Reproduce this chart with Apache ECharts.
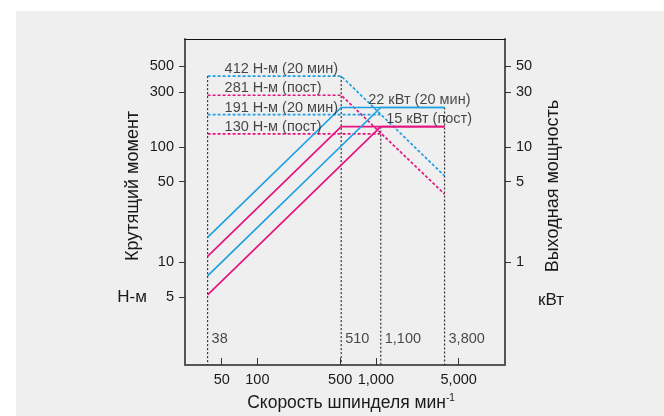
<!DOCTYPE html>
<html>
<head>
<meta charset="utf-8">
<script src="https://cdn.jsdelivr.net/npm/echarts@6/dist/echarts.min.js"></script>
<style>
  body { margin: 0; background: #fff; }
  #bg { position: absolute; left: 16px; top: 11px; width: 648px; height: 405px; background: #efefef; }
  #chart { position: absolute; left: 0; top: 0; width: 664px; height: 416px; }
</style>
</head>
<body>
<div id="bg"></div>
<div id="chart"></div>
<script>
// spindle speed (min-1) break points
const speeds = [38, 510, 1100, 3800];
const speedLabels = ["38", "510", "1,100", "3,800"];
// top of each dotted vertical, N-m
const dropTops = [412, 412, 150, 220];

// torque curves, N-m (dashed)
const torque412 = [[38, 412], [510, 412], [3800, 56]];
const torque281 = [[38, 281], [510, 281], [3800, 39]];
const torque191 = [[38, 191], [1100, 191]];
const torque130 = [[38, 130], [1100, 130]];

// output curves, kW (solid)
const power22a = [[38, 1.64], [510, 22], [3800, 22]];
const power15a = [[38, 1.12], [510, 15], [3800, 15]];
const power22b = [[38, 0.76], [1100, 22], [3800, 22]];
const power15b = [[38, 0.52], [1100, 15], [3800, 15]];

const torqueLevels = [412, 281, 191, 130];
const torqueNotes = ["412 Н-м (20 мин)", "281 Н-м (пост)", "191 Н-м (20 мин)", "130 Н-м (пост)"];
const powerLevels = [22, 15];
const powerNotes = ["22 кВт (20 мин)", "15 кВт (пост)"];

// axis ticks
const xTicks = [50, 100, 500, 1000, 5000];
const xTickLabels = ["50", "100", "500", "1,000", "5,000"];
const torqueTicks = [5, 10, 50, 100, 300, 500];
const powerTicks = [1, 5, 10, 30, 50];

const X_MIN = 24.5, X_MAX = 12300;
const T_MIN = 1.28, T_MAX = 865;

const FONT = '"Liberation Sans", Arial, sans-serif';
const INK = "#1a1a1a";
const BLUE = "#1ea0e2";
const PINK = "#e6147f";

let myChart = echarts.init(document.getElementById("chart"));

let lineSeries = (data, color, yAxisIndex, type) => ({
  type: "line",
  data: data,
  xAxisIndex: 0,
  yAxisIndex: yAxisIndex,
  symbol: "none",
  silent: true,
  lineStyle: { color: color, width: 1.7, type: type },
  z: 3,
});

let series = [];
// dotted verticals
speeds.forEach((s, i) => {
  series.push({
    type: "line",
    data: [[s, dropTops[i]], [s, T_MIN]],
    symbol: "none",
    silent: true,
    lineStyle: { color: "#333", width: 1.2, type: [2, 2] },
    z: 2,
  });
});
series.push(lineSeries(torque412, BLUE, 0, [3, 2]));
series.push(lineSeries(torque281, PINK, 0, [3, 2]));
series.push(lineSeries(torque191, BLUE, 0, [3, 2]));
series.push(lineSeries(torque130, PINK, 0, [3, 2]));
series.push(lineSeries(power22a, BLUE, 1, "solid"));
series.push(lineSeries(power15a, PINK, 1, "solid"));
series.push(lineSeries(power22b, BLUE, 1, "solid"));
series.push(lineSeries(power15b, PINK, 1, "solid"));

let textStyle = { fontFamily: FONT, fontSize: 14.5, color: INK };

// speed labels at foot of the verticals
series.push({
  type: "scatter",
  symbolSize: 0,
  silent: true,
  data: speeds.map((s, i) => ({ value: [s, T_MIN], label: { formatter: speedLabels[i] } })),
  label: Object.assign({ show: true, position: "right", distance: 4, offset: [0, -26] }, textStyle),
  z: 5,
});
// torque notes
series.push({
  type: "scatter",
  symbolSize: 0,
  silent: true,
  data: torqueLevels.map((v, i) => ({ value: [speeds[0], v], label: { formatter: torqueNotes[i] } })),
  label: Object.assign({ show: true, position: "right", distance: 5, offset: [12, -7] }, textStyle),
  z: 5,
});
// power notes
series.push({
  type: "scatter",
  symbolSize: 0,
  silent: true,
  yAxisIndex: 1,
  data: powerLevels.map((v, i) => ({
    value: [speeds[1], v],
    label: { formatter: powerNotes[i], offset: i === 0 ? [22, -7] : [40, -8] },
  })),
  label: Object.assign({ show: true, position: "right", distance: 5 }, textStyle),
  z: 5,
});

myChart.setOption({
  animation: false,
  textStyle: { fontFamily: FONT },
  grid: { left: 185, right: 159, top: 39, bottom: 51 },
  xAxis: [
    {
      type: "log",
      min: X_MIN,
      max: X_MAX,
      position: "bottom",
      axisLine: { lineStyle: { color: "#555", width: 2 } },
      axisTick: { inside: true, length: 7, customValues: xTicks, lineStyle: { color: "#333", width: 1 } },
      axisLabel: {
        customValues: xTicks,
        margin: 7,
        fontSize: 14.5,
        color: INK,
        fontFamily: FONT,
        formatter: (v) => xTickLabels[xTicks.indexOf(Math.round(v))] || "",
      },
      splitLine: { show: false },
      minorTick: { show: false },
    },
    {
      type: "log",
      min: X_MIN,
      max: X_MAX,
      position: "top",
      axisLine: { lineStyle: { color: "#111", width: 1 } },
      axisTick: { show: false },
      axisLabel: { show: false },
      splitLine: { show: false },
    },
  ],
  yAxis: [
    {
      type: "log",
      min: T_MIN,
      max: T_MAX,
      position: "left",
      axisLine: { show: true, lineStyle: { color: "#555", width: 2 } },
      axisTick: { show: true, length: 6, customValues: torqueTicks, lineStyle: { color: "#333" } },
      axisLabel: { customValues: torqueTicks, margin: 11, fontSize: 14.5, color: INK, fontFamily: FONT },
      splitLine: { show: false },
    },
    {
      type: "log",
      min: T_MIN / 10,
      max: T_MAX / 10,
      position: "right",
      axisLine: { show: true, lineStyle: { color: "#555", width: 2 } },
      axisTick: { show: true, length: 6, customValues: powerTicks, lineStyle: { color: "#333" } },
      axisLabel: { customValues: powerTicks, margin: 11, fontSize: 14.5, color: INK, fontFamily: FONT },
      splitLine: { show: false },
    },
  ],
  graphic: [
    {
      type: "text", x: 133, y: 186, rotation: Math.PI / 2,
      style: { text: "Крутящий момент", fontSize: 18, fontFamily: FONT, fill: INK, textAlign: "center", textVerticalAlign: "middle" },
    },
    {
      type: "text", x: 132, y: 297,
      style: { text: "Н-м", fontSize: 17, fontFamily: FONT, fill: INK, textAlign: "center", textVerticalAlign: "middle" },
    },
    {
      type: "text", x: 553, y: 186, rotation: Math.PI / 2,
      style: { text: "Выходная мощность", fontSize: 18, fontFamily: FONT, fill: INK, textAlign: "center", textVerticalAlign: "middle" },
    },
    {
      type: "text", x: 551, y: 300,
      style: { text: "кВт", fontSize: 17, fontFamily: FONT, fill: INK, textAlign: "center", textVerticalAlign: "middle" },
    },
    {
      type: "text", x: 351, y: 403,
      style: {
        text: "{a|Скорость шпинделя мин}{s|-1}",
        textAlign: "center",
        textVerticalAlign: "middle",
        rich: {
          a: { fontSize: 17.5, fontFamily: FONT, fill: INK, lineHeight: 20 },
          s: { fontSize: 10, fontFamily: FONT, fill: INK, verticalAlign: "top", lineHeight: 20 },
        },
      },
    },
  ],
  series: series,
});
</script>
</body>
</html>
